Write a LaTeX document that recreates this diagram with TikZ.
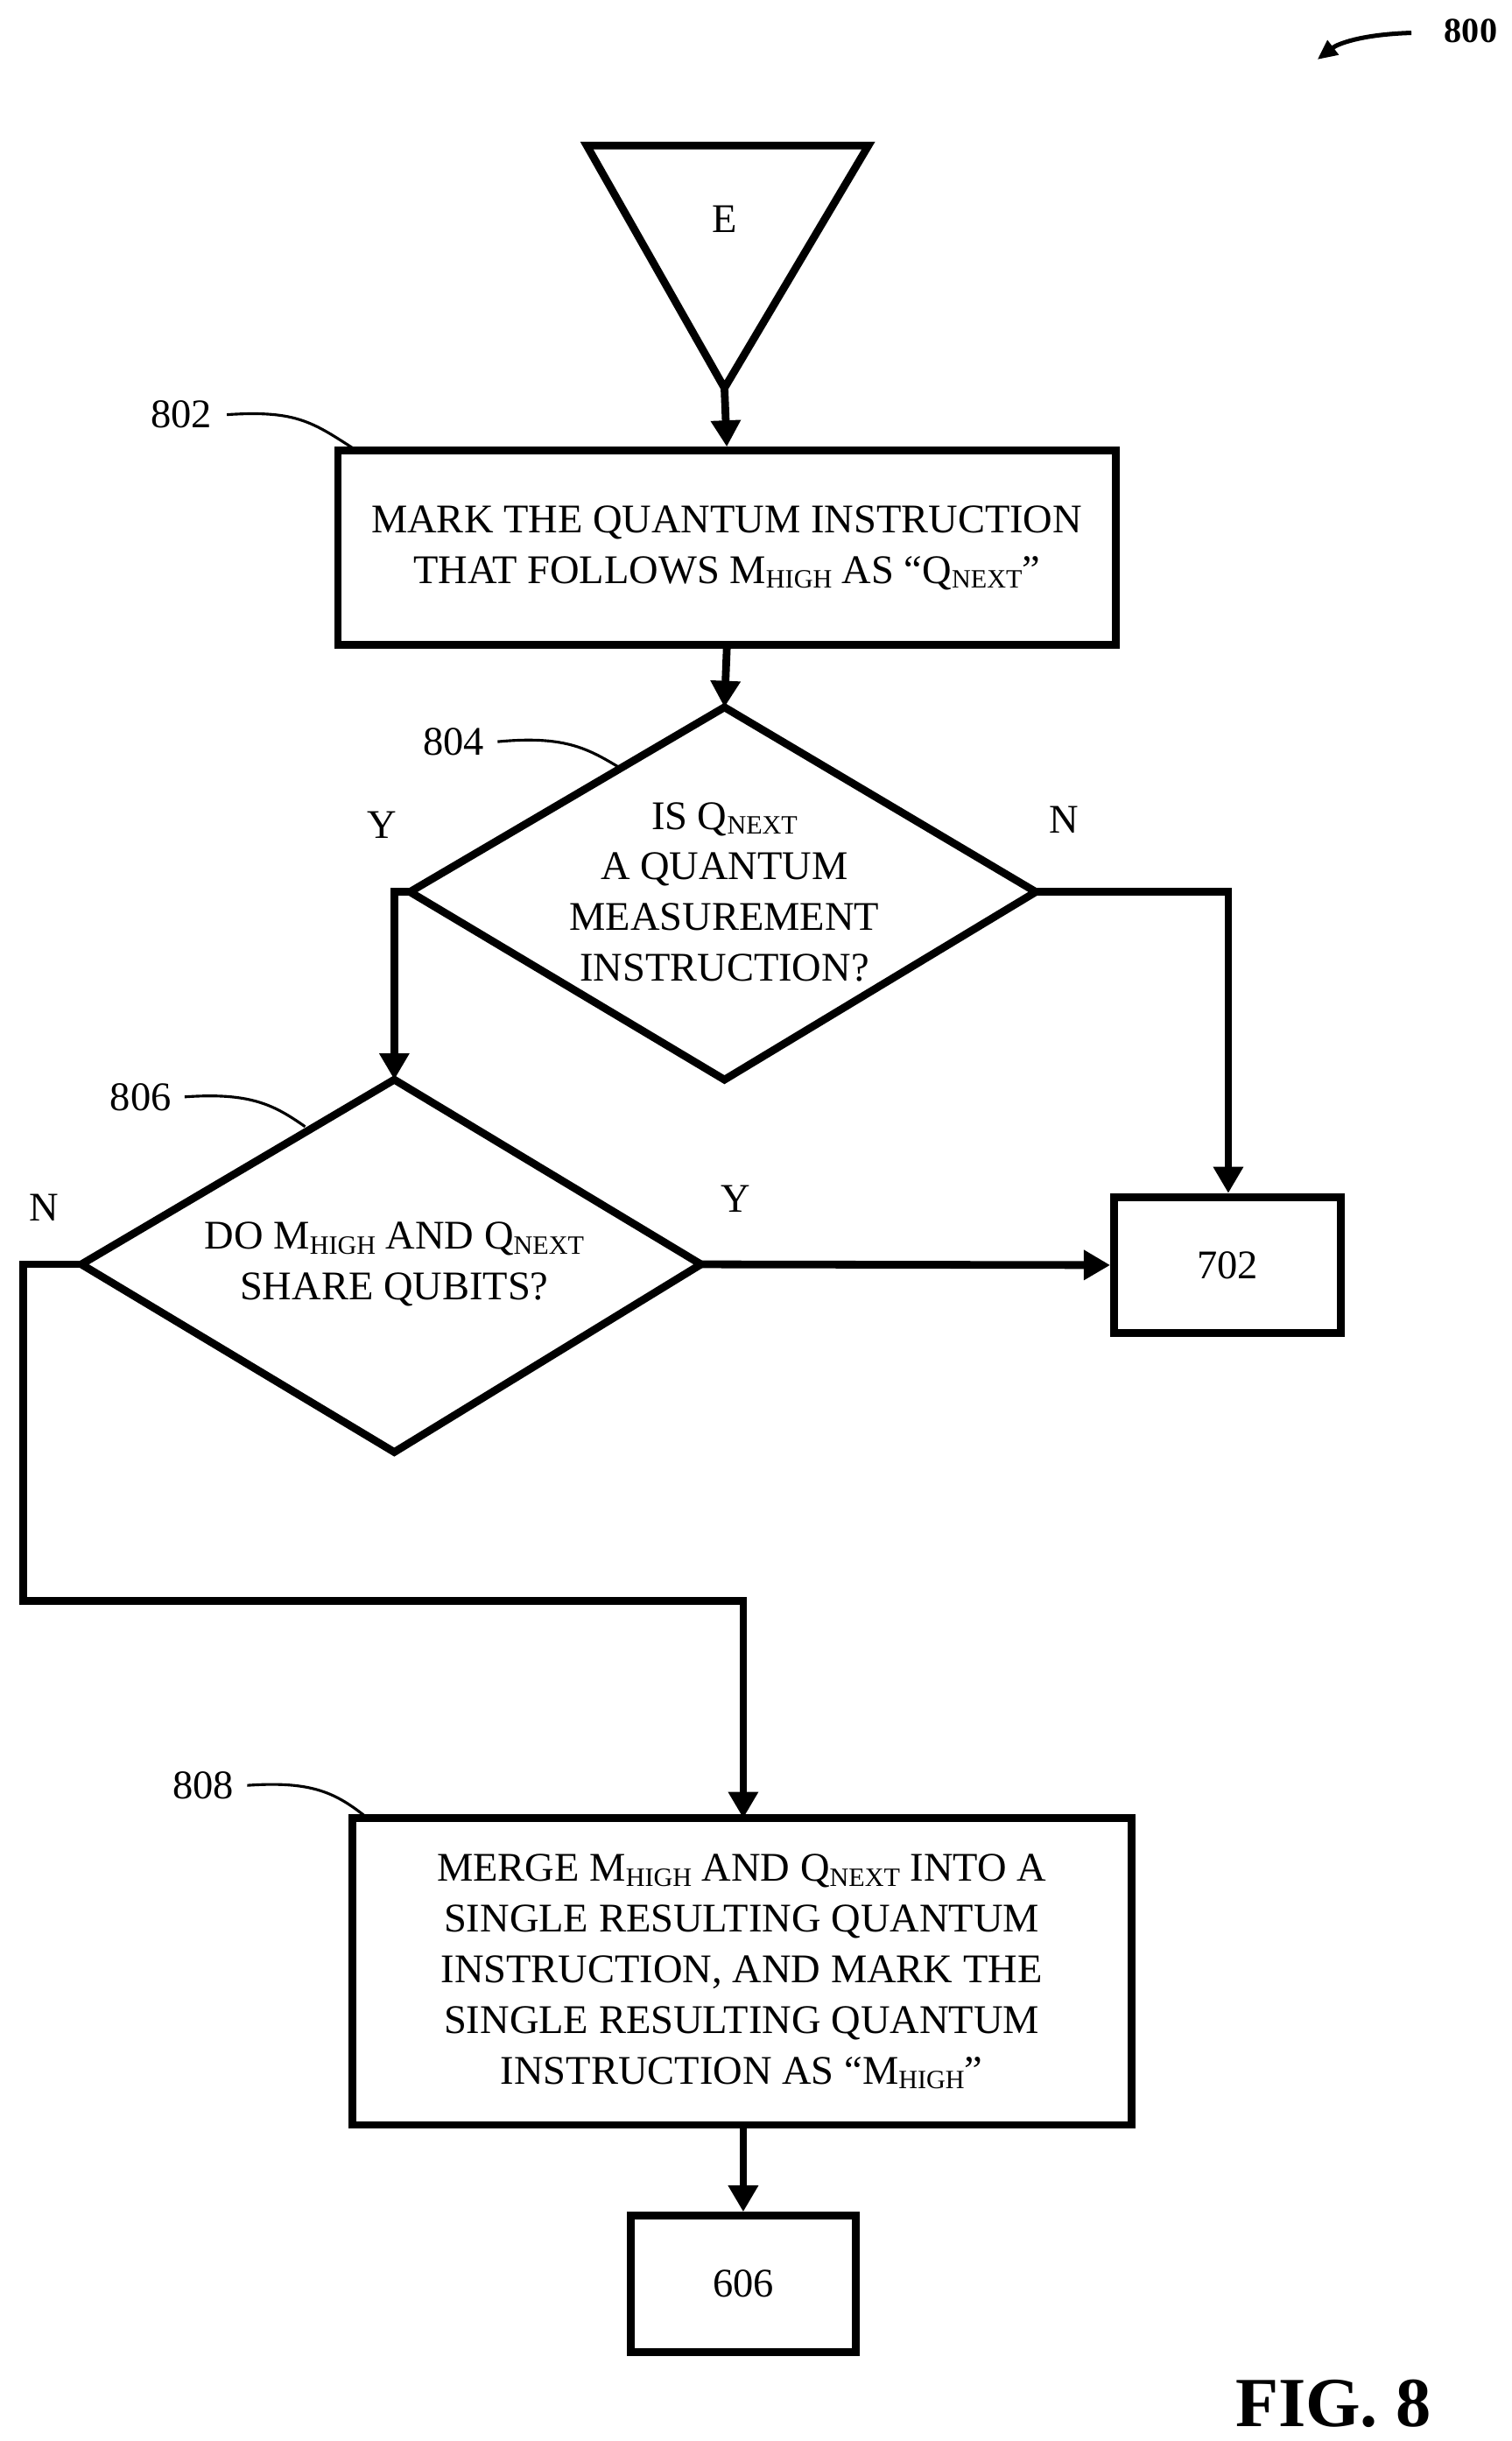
\documentclass[tikz,border=0pt]{standalone}
\usepackage{fontspec}
\setmainfont{Liberation Serif}
\usetikzlibrary{arrows.meta}
\newcommand{\lowtxt}[1]{\raisebox{-0.25ex}{\fontsize{24}{24}\selectfont #1}}
\begin{document}
\begin{tikzpicture}[x=0.05cm,y=-0.05cm,
  every node/.style={font=\fontsize{37}{46}\selectfont},
  box/.style={draw,line width=7pt},
  ln/.style={line width=7pt},
  arr/.style={line width=7pt,-{Triangle[length=24pt,width=26pt]}},
  lead/.style={line width=2.5pt},
  lbl/.style={inner sep=0pt}]
\useasboundingbox (0,0) rectangle (966,1560);
% triangle
\draw[ln,line join=miter] (375,93) -- (555,93) -- (463,248) -- cycle;
\node[lbl] (e) at (463,140) {E};
\coordinate (tb) at (463,248);
% 802
\node[box,minimum width=497*0.05cm,minimum height=124*0.05cm,align=center] (b802) at (464.5,350)
 {MARK THE QUANTUM INSTRUCTION\\THAT FOLLOWS M\lowtxt{HIGH} AS “Q\lowtxt{NEXT}”};
\draw[arr] (tb) -- (b802.north);
\node[lbl] (l802) at (116,265) {802};
\draw[lead] (145,265) .. controls (190,262) and (200,270) .. (228,288);
% 804
\coordinate (d1t) at (463,452); \coordinate (d1l) at (262,570);
\coordinate (d1r) at (662,570); \coordinate (d1b) at (463,690);
\draw[ln] (d1t) -- (d1r) -- (d1b) -- (d1l) -- cycle;
\node[align=center,lbl] (t804) at (463,570) {IS Q\lowtxt{NEXT}\\A QUANTUM\\MEASUREMENT\\INSTRUCTION?};
\draw[arr] (b802.south) -- (d1t);
\node[lbl] (l804) at (290,474) {804};
\draw[lead] (318,474) .. controls (360,470) and (375,478) .. (395,490);
\node[lbl] (y1) at (244,527) {Y};
\node[lbl] (n1) at (680,524) {N};
% 702
\node[box,minimum width=145*0.05cm,minimum height=87*0.05cm] (b702) at (784.5,808.5) {702};
\draw[arr] (d1r) -- (785,570) -- (b702.north -| 785,0);
% 806
\coordinate (d2t) at (252,690); \coordinate (d2l) at (52,808);
\coordinate (d2r) at (448,808); \coordinate (d2b) at (252,928);
\draw[ln] (d2t) -- (d2r) -- (d2b) -- (d2l) -- cycle;
\node[align=center,lbl] (t806) at (252,808) {DO M\lowtxt{HIGH} AND Q\lowtxt{NEXT}\\SHARE QUBITS?};
\draw[arr] (d1l) -- (252,570) -- (d2t);
\node[lbl] (l806) at (90,701) {806};
\draw[lead] (118,701) .. controls (160,698) and (175,706) .. (195,720);
\node[lbl] (n2) at (28,772) {N};
\node[lbl] (y2) at (470,766) {Y};
\draw[arr] (d2r) -- (b702.west);
% 808
\node[box,minimum width=498*0.05cm,minimum height=196*0.05cm,align=center] (b808) at (474,1260)
 {MERGE M\lowtxt{HIGH} AND Q\lowtxt{NEXT} INTO A\\SINGLE RESULTING QUANTUM\\INSTRUCTION, AND MARK THE\\SINGLE RESULTING QUANTUM\\INSTRUCTION AS “M\lowtxt{HIGH}”};
\draw[arr] (d2l) -- (15,808) -- (15,1023) -- (475,1023) -- (475,1162);
\node[lbl] (l808) at (130,1141) {808};
\draw[lead] (158,1141) .. controls (200,1138) and (215,1146) .. (235,1162);
% 606
\node[box,minimum width=144*0.05cm,minimum height=87*0.05cm] (b606) at (475,1459.5) {606};
\draw[arr] (b808.south -| 475,0) -- (b606.north);
% fig
\node[lbl,font=\fontsize{64}{64}\selectfont\bfseries] (fig) at (852,1536) {FIG. 8};
\node[lbl,font=\fontsize{32}{32}\selectfont\bfseries] (n800) at (940,20) {800};
\coordinate (a800) at (842,38);
\draw[lead,line width=4pt,-{Triangle[length=18pt,width=16pt]}] (902,21) .. controls (870,22) and (855,28) .. (a800);
\end{tikzpicture}
\end{document}
